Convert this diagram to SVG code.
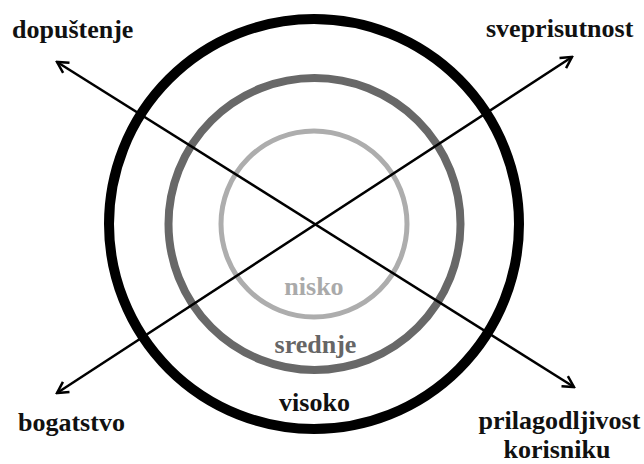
<svg xmlns="http://www.w3.org/2000/svg" width="644" height="464" viewBox="0 0 644 464">
<style>
.lbl{font-family:'Liberation Serif','Times New Roman',serif;font-weight:bold;font-size:26px;fill:#111}
.ring{fill:none}
.conn{stroke:#000;stroke-width:2.5;fill:none}
</style>
<defs>
<marker id="arr" viewBox="-14 -8 16 16" refX="0" refY="0" markerWidth="16" markerHeight="16" markerUnits="userSpaceOnUse" orient="auto-start-reverse">
<path d="M -11,-6 L 0,0 L -11,6" fill="none" stroke="#000" stroke-width="2.5" stroke-linejoin="miter"/>
</marker>
</defs>
<rect width="644" height="464" fill="#fff"/>
<g id="ring-visoko"><circle class="ring" cx="314" cy="224" r="205" stroke="#000" stroke-width="10"/></g>
<g id="ring-srednje"><circle class="ring" cx="314.5" cy="224" r="146" stroke="#686868" stroke-width="8"/></g>
<g id="ring-nisko"><circle class="ring" cx="314" cy="224" r="93" stroke="#adadad" stroke-width="5"/></g>
<g id="connectors">
<line class="conn" x1="57" y1="62" x2="574" y2="387" marker-start="url(#arr)" marker-end="url(#arr)"/>
<line class="conn" x1="57" y1="393" x2="572" y2="57" marker-start="url(#arr)" marker-end="url(#arr)"/>
</g>
<g id="label-nisko"><text class="lbl" x="314" y="295" text-anchor="middle" style="fill:#aaaaaa">nisko</text></g>
<g id="label-srednje"><text class="lbl" x="315.5" y="353" text-anchor="middle" style="fill:#666666">srednje</text></g>
<g id="label-visoko"><text class="lbl" x="314.5" y="411" text-anchor="middle">visoko</text></g>
<g id="node-dopustenje"><text class="lbl" x="12" y="38">dopuštenje</text></g>
<g id="node-sveprisutnost"><text class="lbl" x="486" y="37">sveprisutnost</text></g>
<g id="node-bogatstvo"><text class="lbl" x="18" y="431">bogatstvo</text></g>
<g id="node-prilagodljivost"><text class="lbl" x="559.5" y="429" text-anchor="middle">prilagodljivost</text><text class="lbl" x="557" y="458" text-anchor="middle">korisniku</text></g>
</svg>
